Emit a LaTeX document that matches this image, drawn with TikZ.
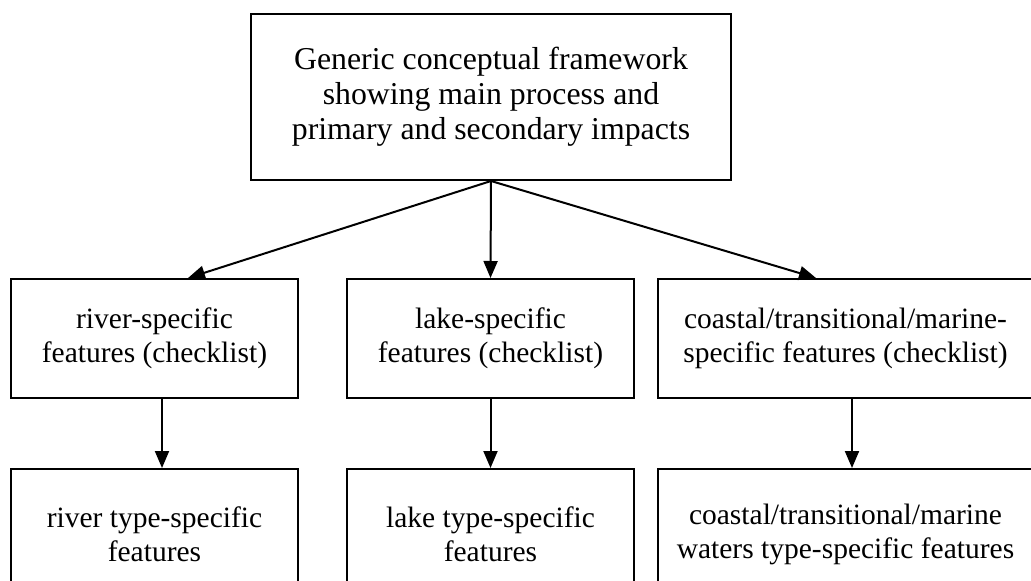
\documentclass[tikz,border=0pt]{standalone}
\usepackage{fontspec}
\setmainfont{Liberation Serif}
\usetikzlibrary{arrows.meta}
\begin{document}
\begin{tikzpicture}[x=1pt,y=-1pt,
  box/.style={draw, line width=2pt, inner sep=0pt, align=center,
    font=\fontsize{29.5}{34}\selectfont},
  arr/.style={line width=2pt, -{Triangle[length=17pt,width=14pt]}}]
\useasboundingbox (0,0) rectangle (1031,581);
\node[box, minimum width=480pt, minimum height=166pt,
  font=\fontsize{31.8}{35}\selectfont] (top) at (491,97)
  {Generic conceptual framework\\showing main process and\\primary and secondary impacts};
\node[box, minimum width=287pt, minimum height=119pt] (b1) at (154.5,338.5)
  {river-specific\\features (checklist)};
\node[box, minimum width=287pt, minimum height=119pt] (b2) at (490.5,338.5)
  {lake-specific\\features (checklist)};
\node[box, minimum width=375pt, minimum height=119pt] (b3) at (845.5,338.5)
  {coastal/transitional/marine-\\specific features (checklist)};
\node[box, minimum width=287pt, minimum height=131pt] (c1) at (154.5,534.5)
  {river type-specific\\features};
\node[box, minimum width=287pt, minimum height=131pt] (c2) at (490.5,534.5)
  {lake type-specific\\features};
\node[box, minimum width=375pt, minimum height=131pt] (c3) at (845.5,534.5)
  {coastal/transitional/marine\\waters type-specific features};
\draw[arr] (top.south) -- ([xshift=33.5pt]b1.north);
\draw[arr] (top.south) -- (b2.north);
\draw[arr] (top.south) -- ([xshift=-29.5pt]b3.north);
\draw[arr] ([xshift=7.5pt]b1.south) -- ([xshift=7.5pt]c1.north);
\draw[arr] (b2.south) -- (c2.north);
\draw[arr] ([xshift=6.5pt]b3.south) -- ([xshift=6.5pt]c3.north);
\end{tikzpicture}
\end{document}
